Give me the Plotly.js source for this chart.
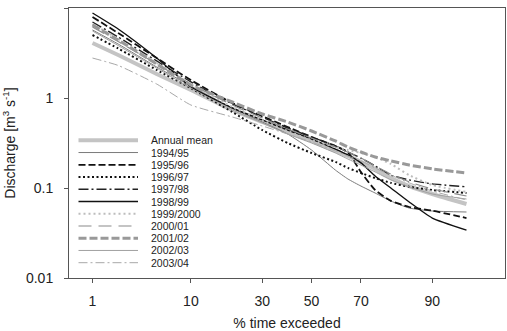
<!DOCTYPE html>
<html>
<head>
<meta charset="utf-8">
<script src="https://cdn.plot.ly/plotly-3.0.1.min.js"></script>
<style>html,body{margin:0;padding:0;background:#fff;}#chart{width:507px;height:331px;}</style>
</head>
<body>
<div id="chart"></div>
<script>
// % time exceeded (shared by all curves)
const pctExceeded = [1, 2, 5, 10, 20, 30, 40, 50, 60, 65, 70, 75, 80, 85, 90, 95];

// Discharge [m3 s-1]
const annualMean = [4.08, 3.00, 1.85, 1.23, 0.736, 0.541, 0.419, 0.333, 0.258, 0.227, 0.195, 0.163, 0.129, 0.105, 0.0858, 0.0664];
const y1994_95 = [5.70, 3.98, 2.21, 1.36, 0.774, 0.541, 0.398, 0.264, 0.158, 0.126, 0.105, 0.088, 0.0717, 0.0599, 0.0555, 0.0541];
const y1995_96 = [7.94, 5.27, 2.78, 1.58, 0.880, 0.631, 0.476, 0.369, 0.293, 0.250, 0.150, 0.095, 0.072, 0.0615, 0.0560, 0.0464];
const y1996_97 = [5.01, 3.55, 2.05, 1.29, 0.699, 0.441, 0.316, 0.245, 0.195, 0.167, 0.147, 0.129, 0.114, 0.103, 0.095, 0.088];
const y1997_98 = [6.99, 4.76, 2.58, 1.51, 0.858, 0.615, 0.464, 0.369, 0.293, 0.251, 0.215, 0.176, 0.139, 0.123, 0.111, 0.103];
const y1998_99 = [8.80, 5.84, 2.78, 1.33, 0.774, 0.570, 0.441, 0.350, 0.271, 0.233, 0.190, 0.136, 0.100, 0.0699, 0.0464, 0.0341];
const y1999_2000 = [6.64, 4.52, 2.45, 1.43, 0.794, 0.570, 0.430, 0.341, 0.285, 0.264, 0.245, 0.221, 0.185, 0.139, 0.108, 0.0903];
const y2000_01 = [6.15, 4.24, 2.39, 1.43, 0.836, 0.599, 0.452, 0.359, 0.285, 0.251, 0.215, 0.176, 0.143, 0.117, 0.0975, 0.0815];
const y2001_02 = [6.47, 4.41, 2.39, 1.39, 0.903, 0.664, 0.541, 0.430, 0.333, 0.285, 0.251, 0.221, 0.200, 0.180, 0.163, 0.147];
const y2002_03 = [5.55, 3.83, 2.15, 1.29, 0.736, 0.528, 0.398, 0.316, 0.245, 0.210, 0.180, 0.151, 0.123, 0.103, 0.0858, 0.0754];
const y2003_04 = [2.78, 2.30, 1.43, 0.836, 0.615, 0.489, 0.398, 0.324, 0.258, 0.227, 0.200, 0.167, 0.139, 0.114, 0.0926, 0.0736];

const seriesNames = ["Annual mean", "1994/95", "1995/96", "1996/97", "1997/98", "1998/99", "1999/2000", "2000/01", "2001/02", "2002/03", "2003/04"];
const seriesValues = [annualMean, y1994_95, y1995_96, y1996_97, y1997_98, y1998_99, y1999_2000, y2000_01, y2001_02, y2002_03, y2003_04];

const xTickVals = [1, 10, 30, 50, 70, 90];
const xRangePct = [0.5, 98];
const yTickVals = [0.01, 0.1, 1, 10];
const yTickText = ["0.01", "0.1", "1", "10"];

// styles
const styles = [
  {color: "#c4c4c4", width: 4, dash: "solid"},
  {color: "#7a7a7a", width: 1, dash: "solid"},
  {color: "#111111", width: 1.8, dash: "7px,3px"},
  {color: "#111111", width: 2, dash: "2px,2.5px"},
  {color: "#222222", width: 1.4, dash: "10px,3px,2px,3px"},
  {color: "#111111", width: 1.4, dash: "solid"},
  {color: "#bdbdbd", width: 2, dash: "2px,3px"},
  {color: "#8a8a8a", width: 1.2, dash: "13px,7px"},
  {color: "#999999", width: 3, dash: "8px,3px"},
  {color: "#a0a0a0", width: 1, dash: "solid"},
  {color: "#a8a8a8", width: 1, dash: "9px,3px,2px,3px"}
];

// normal probability scale (inverse normal CDF, Acklam)
function probit(p) {
  const a = [-3.969683028665376e+01, 2.209460984245205e+02, -2.759285104469687e+02, 1.383577518672690e+02, -3.066479806614716e+01, 2.506628277459239e+00];
  const b = [-5.447609879822406e+01, 1.615858368580409e+02, -1.556989798598866e+02, 6.680131188771972e+01, -1.328068155288572e+01];
  const c = [-7.784894002430293e-03, -3.223964580411365e-01, -2.400758277161838e+00, -2.549732539343734e+00, 4.374664141464968e+00, 2.938163982698783e+00];
  const d = [7.784695709041462e-03, 3.224671290700398e-01, 2.445134137142996e+00, 3.754408661907416e+00];
  const pl = 0.02425, ph = 1 - pl;
  let q, r;
  if (p < pl) {
    q = Math.sqrt(-2 * Math.log(p));
    return (((((c[0]*q+c[1])*q+c[2])*q+c[3])*q+c[4])*q+c[5]) / ((((d[0]*q+d[1])*q+d[2])*q+d[3])*q+1);
  } else if (p <= ph) {
    q = p - 0.5; r = q*q;
    return (((((a[0]*r+a[1])*r+a[2])*r+a[3])*r+a[4])*r+a[5])*q / (((((b[0]*r+b[1])*r+b[2])*r+b[3])*r+b[4])*r+1);
  } else {
    q = Math.sqrt(-2 * Math.log(1 - p));
    return -(((((c[0]*q+c[1])*q+c[2])*q+c[3])*q+c[4])*q+c[5]) / ((((d[0]*q+d[1])*q+d[2])*q+d[3])*q+1);
  }
}
const px = v => probit(v / 100);

const traces = seriesNames.map((name, i) => ({
  type: "scatter",
  mode: "lines",
  name: name,
  x: pctExceeded.map(px),
  y: seriesValues[i],
  line: {color: styles[i].color, width: styles[i].width, dash: styles[i].dash, shape: "spline", smoothing: 0.5},
  showlegend: false,
  hoverinfo: "skip"
}));

// custom compact legend
const W = 507, H = 331;
const mL = 69, mR = 2, mT = 8, mB = 53;
const plotW = W - mL - mR, plotH = H - mT - mB;
const toPX = x => (x - mL) / plotW;
const toPY = y => (H - mB - y) / plotH;
const legTop = 140.3, legStep = 12.24;
const shapes = [], annotations = [];
seriesNames.forEach((name, i) => {
  const yy = toPY(legTop + i * legStep);
  shapes.push({type: "line", xref: "paper", yref: "paper", x0: toPX(78.5), x1: toPX(138), y0: yy, y1: yy,
    line: {color: styles[i].color, width: styles[i].width, dash: styles[i].dash}});
  annotations.push({xref: "paper", yref: "paper", x: toPX(148.5), y: yy, xanchor: "left", yanchor: "middle",
    text: name, showarrow: false, font: {family: "Liberation Sans, Arial, sans-serif", size: 10.5, color: "#222"}});
});

const layout = {
  width: W, height: H,
  margin: {l: mL, r: mR, t: mT, b: mB},
  paper_bgcolor: "#fff", plot_bgcolor: "#fff",
  font: {family: "Liberation Sans, Arial, sans-serif", size: 14, color: "#222"},
  showlegend: false,
  xaxis: {
    type: "linear",
    range: xRangePct.map(px),
    tickvals: xTickVals.map(px),
    ticktext: xTickVals.map(String),
    ticks: "outside", ticklen: 4, tickcolor: "#555", tickwidth: 1,
    ticklabelstandoff: 6,
    showgrid: false, zeroline: false,
    showline: true, linecolor: "#555", linewidth: 1, mirror: true,
    tickfont: {size: 14, color: "#222"},
    title: {text: "% time exceeded", font: {size: 14, color: "#222"}, standoff: 10}
  },
  yaxis: {
    type: "log",
    range: [-2, 1],
    tickvals: yTickVals,
    ticktext: yTickText,
    ticks: "outside", ticklen: 4, tickcolor: "#555", tickwidth: 1,
    ticklabelstandoff: 8,
    showgrid: false, zeroline: false,
    showline: true, linecolor: "#555", linewidth: 1, mirror: true,
    tickfont: {size: 14, color: "#222"},
    title: {text: "Discharge [m<sup>3</sup> s<sup>-1</sup>]", font: {size: 14, color: "#222"}, standoff: 12}
  },
  shapes: shapes,
  annotations: annotations
};

Plotly.newPlot("chart", traces, layout, {staticPlot: true, displayModeBar: false});
</script>
</body>
</html>
